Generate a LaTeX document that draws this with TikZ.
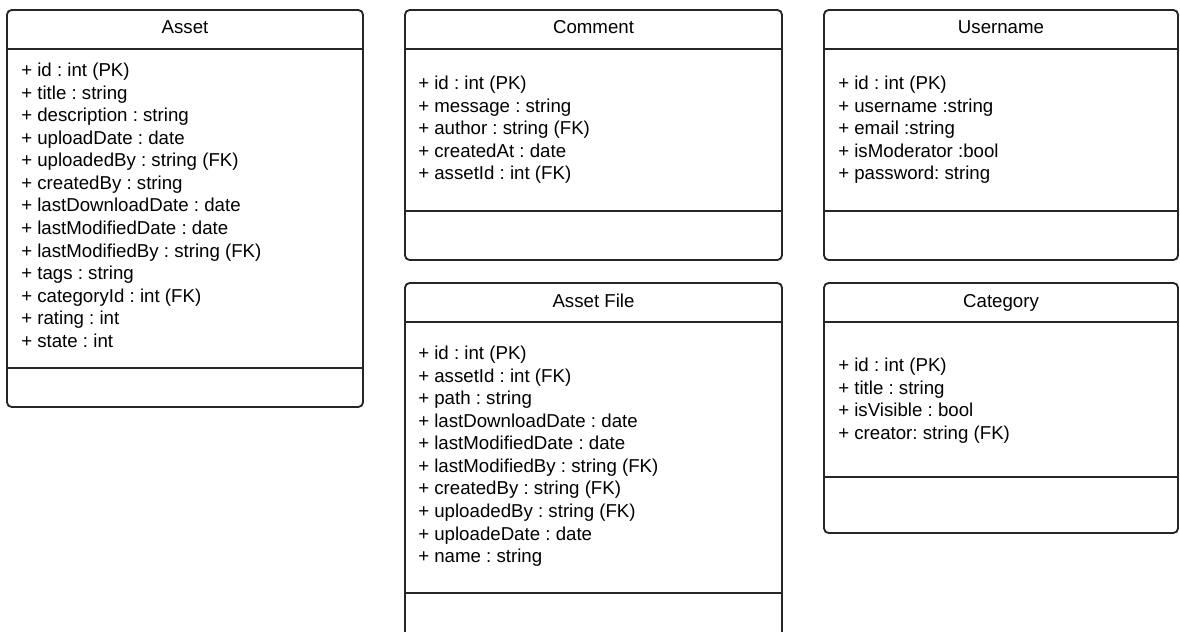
\documentclass[tikz,border=0pt]{standalone}
\usepackage{fontspec}
\setmainfont{Liberation Sans}

\begin{document}
\frenchspacing
\begin{tikzpicture}[x=0.75pt,y=-0.75pt,
  classbox/.style={draw=black!85,line width=1.4pt,rounded corners=3.5pt},
  sepline/.style={draw=black!85,line width=1.4pt},
  classtitle/.style={anchor=base,inner sep=0pt,font=\fontsize{14}{16.9}\selectfont},
  attrlist/.style={anchor=north west,align=left,inner sep=0pt,font=\fontsize{14}{16.9}\selectfont}]
  \useasboundingbox (0,0) rectangle (1180,631); % 画像全体の大きさ
  \clip (0,0) rectangle (1180,631); % はみ出した部分を切り取る

  % Asset
  \draw[classbox] (7,10) rectangle (363,407); % 外枠
  \draw[sepline] (7,49) -- (363,49); % 名前の下の線
  \draw[sepline] (7,368) -- (363,368); % 属性の下の線
  \node[classtitle] (asset) at (185,34) {Asset};
  \node[attrlist] (assetAttr) at (21,63) {+ id : int (PK)\\+ title : string\\+ description : string\\+ uploadDate : date\\+ uploadedBy : string (FK)\\+ createdBy : string\\+ lastDownloadDate : date\\+ lastModifiedDate : date\\+ lastModifiedBy : string (FK)\\+ tags : string\\+ categoryId : int (FK)\\+ rating : int\\+ state : int};

  % Comment
  \draw[classbox] (405,10) rectangle (782,260); % 外枠
  \draw[sepline] (405,49) -- (782,49); % 名前の下の線
  \draw[sepline] (405,211) -- (782,211); % 属性の下の線
  \node[classtitle] (comment) at (593.5,34) {Comment};
  \node[attrlist] (commentAttr) at (418,76) {+ id : int (PK)\\+ message : string\\+ author : string (FK)\\+ createdAt : date\\+ assetId : int (FK)};

  % Username
  \draw[classbox] (824,10) rectangle (1178,260); % 外枠
  \draw[sepline] (824,49) -- (1178,49); % 名前の下の線
  \draw[sepline] (824,211) -- (1178,211); % 属性の下の線
  \node[classtitle] (username) at (1001,34) {Username};
  \node[attrlist] (usernameAttr) at (838,76) {+ id : int (PK)\\+ username :string\\+ email :string\\+ isModerator :bool\\+ password: string};

  % Asset File（下端は画像の外）
  \draw[classbox] (405,283) rectangle (782,680); % 外枠
  \draw[sepline] (405,322) -- (782,322); % 名前の下の線
  \draw[sepline] (405,593) -- (782,593); % 属性の下の線
  \node[classtitle] (assetFile) at (593.5,307) {Asset File};
  \node[attrlist] (assetFileAttr) at (418,346) {+ id : int (PK)\\+ assetId : int (FK)\\+ path : string\\+ lastDownloadDate : date\\+ lastModifiedDate : date\\+ lastModifiedBy : string (FK)\\+ createdBy : string (FK)\\+ uploadedBy : string (FK)\\+ uploadeDate : date\\+ name : string};

  % Category
  \draw[classbox] (824,283) rectangle (1178,533); % 外枠
  \draw[sepline] (824,322) -- (1178,322); % 名前の下の線
  \draw[sepline] (824,477) -- (1178,477); % 属性の下の線
  \node[classtitle] (category) at (1001,307) {Category};
  \node[attrlist] (categoryAttr) at (838,358) {+ id : int (PK)\\+ title : string\\+ isVisible : bool\\+ creator: string (FK)};
\end{tikzpicture}
\end{document}
